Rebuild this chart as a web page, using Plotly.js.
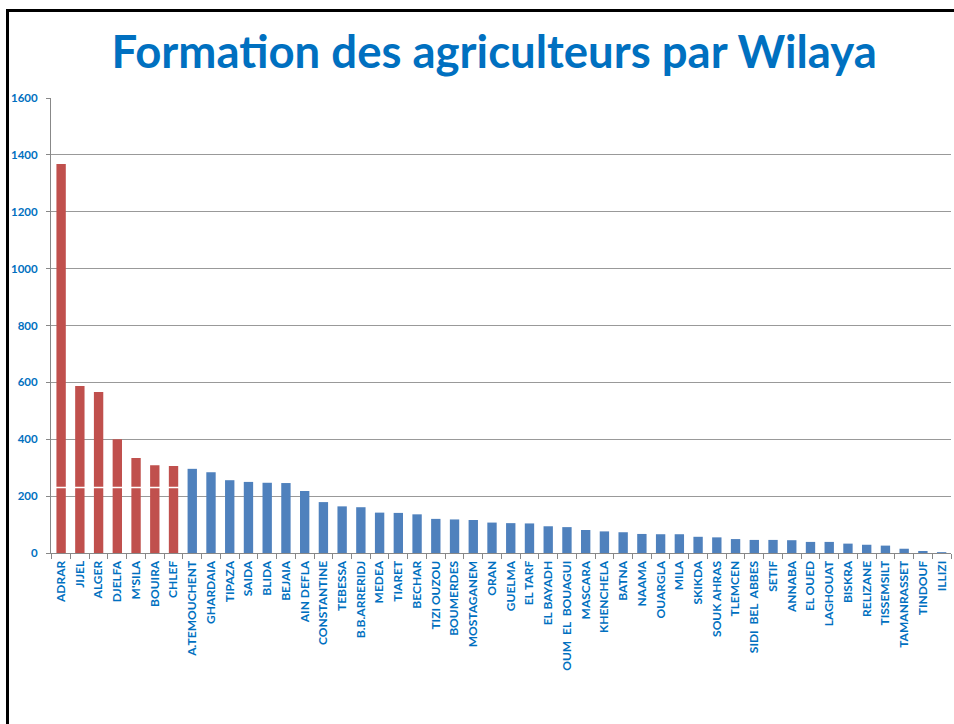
<!DOCTYPE html>
<html>
<head>
<meta charset="utf-8">
<script src="https://cdn.plot.ly/plotly-3.0.1.min.js"></script>
<style>
  html, body { margin: 0; padding: 0; background: #fff; }
  #chart { width: 954px; height: 724px; }
  /* slide frame: thick black edge on left and top */
  #frame {
    position: absolute; left: 6px; top: 9px; width: 960px; height: 730px;
    border-left: 3px solid #000; border-top: 3px solid #000;
    pointer-events: none;
  }
</style>
</head>
<body>
<div id="chart"></div>
<div id="frame"></div>
<script>
// ── Data ──────────────────────────────────────────────────────────────────────
const wilayas = [
  'ADRAR', 'JIJEL', 'ALGER', 'DJELFA', "M'SILA", 'BOUIRA', 'CHLEF',
  'A.TEMOUCHENT', 'GHARDAIA', 'TIPAZA', 'SAIDA', 'BLIDA', 'BEJAIA', 'AIN DEFLA',
  'CONSTANTINE', 'TEBESSA', 'B.B.ARRERIDJ', 'MEDEA', 'TIARET', 'BECHAR',
  'TIZI OUZOU', 'BOUMERDES', 'MOSTAGANEM', 'ORAN', 'GUELMA', 'EL TARF',
  'EL BAYADH', 'OUM  EL  BOUAGUI', 'MASCARA', 'KHENCHELA', 'BATNA', 'NAAMA',
  'OUARGLA', 'MILA', 'SKIKDA', 'SOUK AHRAS', 'TLEMCEN', 'SIDI  BEL  ABBES',
  'SETIF', 'ANNABA', 'EL OUED', 'LAGHOUAT', 'BISKRA', 'RELIZANE',
  'TISSEMSILT', 'TAMANRASSET', 'TINDOUF', 'ILLIZI'
];
const formes = [
  1368, 587, 566, 400, 334, 309, 306,
  296, 284, 256, 250, 247, 246, 218,
  179, 164, 161, 142, 141, 136,
  120, 118, 116, 107, 105, 104,
  94, 91, 81, 76, 73, 67,
  66, 66, 57, 55, 49, 46,
  46, 45, 39, 39, 33, 29,
  26, 15, 7, 3
];
const topCount = 7;   // first wilayas highlighted in red

const RED  = '#C0504D';
const BLUE = '#4F81BD';
const TXT  = '#0070C0';

const barColors = formes.map((_, i) => i < topCount ? RED : BLUE);

const trace = {
  type: 'bar',
  x: wilayas,
  y: formes,
  marker: { color: barColors, line: { width: 0 } },
  hoverinfo: 'x+y',
};

Plotly.newPlot('chart', [trace], {
  width: 954, height: 724,
  paper_bgcolor: '#fff', plot_bgcolor: '#fff',
  margin: { t: 98, b: 171, l: 51, r: 3 },
  bargap: 0.5,
  showlegend: false,
  font: { family: 'Lato, "Liberation Sans", sans-serif', color: TXT },
  title: {
    text: '<b>Formation des agriculteurs par Wilaya</b>',
    font: { size: 45.5, color: TXT, family: 'Lato, sans-serif' },
    xref: 'container', x: 0.518, xanchor: 'center',
    yref: 'container', y: 0.928, yanchor: 'middle',
  },
  xaxis: {
    type: 'category',
    tickangle: -90,
    tickson: 'boundaries',
    ticks: 'outside', ticklen: 5, tickcolor: '#888',
    showline: true, linecolor: '#888', linewidth: 1,
    showgrid: false,
    tickfont: { size: 12, color: TXT, family: 'Lato, sans-serif', weight: 'bold' },
    ticklabelstandoff: 2,
  },
  yaxis: {
    range: [0, 1600], dtick: 200,
    ticks: 'outside', ticklen: 4, tickcolor: '#888',
    showline: true, linecolor: '#888', linewidth: 1,
    gridcolor: '#999', gridwidth: 1,
    zeroline: false,
    tickfont: { size: 11.5, color: TXT, family: 'Lato, sans-serif', weight: 'bold' },
    ticklabelstandoff: 6,
  },
  shapes: [{
    // thin white seam across the highlighted bars, as in the source slide
    type: 'line', xref: 'x', yref: 'y',
    x0: -0.5, x1: topCount - 0.5, y0: 230, y1: 230,
    line: { color: '#fff', width: 1.5 },
  }],
}, { displayModeBar: false, staticPlot: true });
</script>
</body>
</html>
